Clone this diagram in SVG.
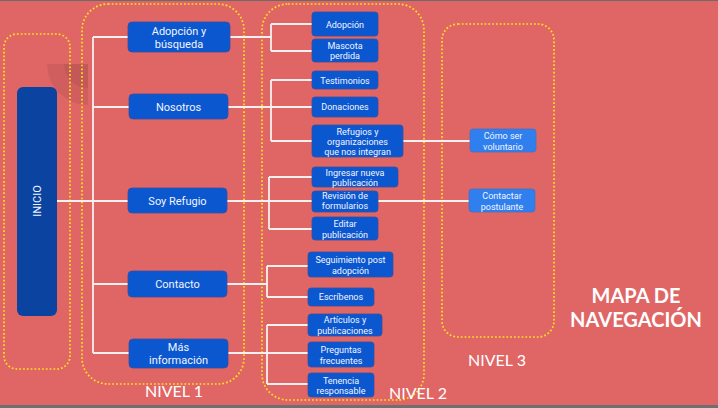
<svg xmlns="http://www.w3.org/2000/svg" width="718" height="408" viewBox="0 0 718 408">
<style>
.n1{fill:#0B57D0;stroke:#3a4f9e;stroke-width:0.8}
.n2{fill:#0B57D0;stroke:#3a4f9e;stroke-width:0.8}
.n3{fill:#2F7FEE;stroke:#4a6fc0;stroke-width:0.8}
.t1{font-family:Roboto,"Liberation Sans",sans-serif;font-size:11px;fill:#F2F5FF;text-anchor:middle}
.t2{font-family:Roboto,"Liberation Sans",sans-serif;font-size:9px;fill:#F2F5FF;text-anchor:middle}
.lvl{font-family:Lato,"Open Sans",sans-serif;font-size:16px;fill:#FFFFFF;text-anchor:middle}
.dot{fill:none;stroke:#FFE21A;stroke-width:1.7;stroke-dasharray:1.7 2.1}
.c{fill:none;stroke:#FBF0F0;stroke-width:1.8}
</style>
<rect x="0" y="0" width="718" height="408" fill="#E06666"/>
<rect x="0" y="0" width="718" height="1" fill="#6b6b6b"/>
<rect x="0" y="405" width="718" height="3" fill="#6f6f6f"/>
<path d="M88 64 L47 64 A41 41 0 0 0 88 105 Z" fill="#000" fill-opacity="0.07"/>
<path d="M88 64 L64 64 A24 24 0 0 0 88 88 Z" fill="#000" fill-opacity="0.06"/>

<g id="groups">
<rect class="dot" x="4" y="34" width="66" height="335" rx="13"/>
<rect class="dot" x="82" y="4" width="162" height="380" rx="26"/>
<rect class="dot" x="262" y="4" width="162" height="396" rx="26"/>
<rect class="dot" x="442" y="24" width="112" height="313" rx="16"/>
</g>

<g id="connectors">
<path class="c" d="M57 201 H128"/>
<path class="c" d="M93 37 V353"/>
<path class="c" d="M93 37 H128 M93 107 H129 M93 284 H128 M93 353 H129"/>
<path class="c" d="M230 37 H271 M271 24 V51 M271 24 H312 M271 51 H312"/>
<path class="c" d="M228 107 H312 M271 80 V141 M271 80 H312 M271 141 H312"/>
<path class="c" d="M403 141 H470"/>
<path class="c" d="M227 201 H312 M269 177 V229 M269 177 H312 M269 229 H312 M378 201 H469"/>
<path class="c" d="M227 284 H267 M267 266 V297 M267 266 H308 M267 297 H308"/>
<path class="c" d="M228 353 H308 M267 325 V384 M267 325 H308 M267 384 H308"/>
</g>

<g id="inicio">
<rect x="17" y="87" width="40" height="229" rx="6" fill="#0A43A0"/>
<text class="t1" transform="translate(41 201) rotate(-90)" style="font-size:11px">INICIO</text>
</g>

<g id="adopcion-busqueda"><rect class="n1" x="128" y="22" width="102" height="30" rx="4"/><text class="t1" x="179" y="35">Adopción y</text><text class="t1" x="179" y="48">búsqueda</text></g>
<g id="nosotros"><rect class="n1" x="129" y="94" width="99" height="25" rx="4"/><text class="t1" x="178.5" y="111">Nosotros</text></g>
<g id="soy-refugio"><rect class="n1" x="128" y="188" width="99" height="25" rx="4"/><text class="t1" x="177.5" y="205">Soy Refugio</text></g>
<g id="contacto"><rect class="n1" x="128" y="271" width="99" height="26" rx="4"/><text class="t1" x="177.5" y="288">Contacto</text></g>
<g id="mas-informacion"><rect class="n1" x="129" y="339" width="99" height="29" rx="4"/><text class="t1" x="178.5" y="351">Más</text><text class="t1" x="178.5" y="364">información</text></g>

<g id="adopcion"><rect class="n2" x="312" y="12" width="66" height="24" rx="3"/><text class="t2" x="345" y="27.5">Adopción</text></g>
<g id="mascota-perdida"><rect class="n2" x="312" y="39" width="66" height="23" rx="3"/><text class="t2" x="345" y="49">Mascota</text><text class="t2" x="345" y="59">perdida</text></g>
<g id="testimonios"><rect class="n2" x="312" y="71" width="66" height="18" rx="3"/><text class="t2" x="345" y="83.5">Testimonios</text></g>
<g id="donaciones"><rect class="n2" x="312" y="97" width="66" height="20" rx="3"/><text class="t2" x="345" y="110">Donaciones</text></g>
<g id="refugios"><rect class="n2" x="312" y="125" width="91" height="32" rx="3"/><text class="t2" x="357.5" y="134.5">Refugios y</text><text class="t2" x="357.5" y="144.5">organizaciones</text><text class="t2" x="357.5" y="155">que nos integran</text></g>
<g id="ingresar"><rect class="n2" x="312" y="167" width="86" height="20" rx="3"/><text class="t2" x="355" y="176">Ingresar nueva</text><text class="t2" x="355" y="185.5">publicación</text></g>
<g id="revision"><rect class="n2" x="312" y="191" width="66" height="21" rx="3"/><text class="t2" x="345" y="199">Revisión de</text><text class="t2" x="345" y="209">formularios</text></g>
<g id="editar"><rect class="n2" x="312" y="217" width="66" height="23" rx="3"/><text class="t2" x="345" y="227">Editar</text><text class="t2" x="345" y="238">publicación</text></g>
<g id="seguimiento"><rect class="n2" x="308" y="252" width="85" height="25" rx="3"/><text class="t2" x="350.5" y="263">Seguimiento post</text><text class="t2" x="350.5" y="273.5">adopción</text></g>
<g id="escribenos"><rect class="n2" x="308" y="288" width="66" height="18" rx="3"/><text class="t2" x="341" y="300">Escríbenos</text></g>
<g id="articulos"><rect class="n2" x="308" y="314" width="74" height="22" rx="3"/><text class="t2" x="345" y="323">Artículos y</text><text class="t2" x="345" y="334">publicaciones</text></g>
<g id="preguntas"><rect class="n2" x="308" y="342" width="66" height="25" rx="3"/><text class="t2" x="341" y="353">Preguntas</text><text class="t2" x="341" y="363.5">frecuentes</text></g>
<g id="tenencia"><rect class="n2" x="308" y="373" width="66" height="24" rx="3"/><text class="t2" x="341" y="383.5">Tenencia</text><text class="t2" x="341" y="394">responsable</text></g>

<g id="como-ser-voluntario"><rect class="n3" x="470" y="129" width="66" height="23" rx="3"/><text class="t2" x="503" y="139">Cómo ser</text><text class="t2" x="503" y="150">voluntario</text></g>
<g id="contactar-postulante"><rect class="n3" x="469" y="189" width="66" height="23" rx="3"/><text class="t2" x="502" y="199">Contactar</text><text class="t2" x="502" y="210">postulante</text></g>

<g id="labels">
<text class="lvl" x="174" y="397">NIVEL 1</text>
<text class="lvl" x="418" y="399">NIVEL 2</text>
<text class="lvl" x="497" y="366">NIVEL 3</text>
<text class="lvl" x="636" y="303" style="font-size:20px;font-weight:bold">MAPA DE</text>
<text class="lvl" x="636" y="327" style="font-size:20px;font-weight:bold">NAVEGACIÓN</text>
</g>
</svg>
